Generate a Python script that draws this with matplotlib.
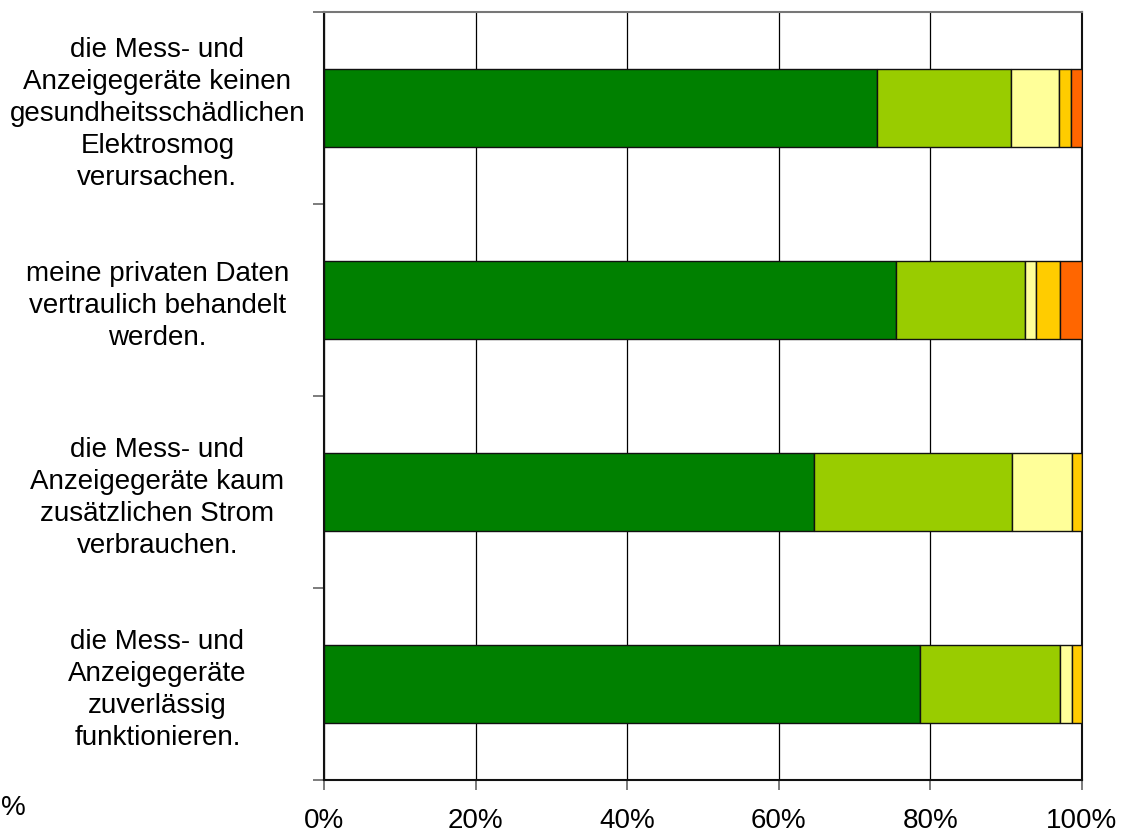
import matplotlib
matplotlib.use("Agg")
import matplotlib.pyplot as plt
import numpy as np

plt.rcParams['font.family'] = ['Liberation Sans', 'DejaVu Sans']

categories = [
    "die Mess- und\nAnzeigegeräte keinen\ngesundheitsschädlichen\nElektrosmog\nverursachen.",
    "meine privaten Daten\nvertraulich behandelt\nwerden.",
    "die Mess- und\nAnzeigegeräte kaum\nzusätzlichen Strom\nverbrauchen.",
    "die Mess- und\nAnzeigegeräte\nzuverlässig\nfunktionieren.",
]

# shares per answer level (percent), from strongest agreement to strongest disagreement
level1 = [73.0, 75.5, 64.7, 78.6]
level2 = [17.6, 17.0, 26.1, 18.5]
level3 = [6.4, 1.4, 7.9, 1.6]
level4 = [1.5, 3.2, 1.3, 1.3]
level5 = [1.5, 2.9, 0.0, 0.0]

series = [level1, level2, level3, level4, level5]
colors = ["#008000", "#99CC00", "#FFFF99", "#FFCC00", "#FF6600"]

xticks = [0, 20, 40, 60, 80, 100]
xticklabels = ["0%", "20%", "40%", "60%", "80%", "100%"]

fig = plt.figure(figsize=(11.21, 8.36), dpi=100)
ax = fig.add_axes([324 / 1121, 1 - 780 / 836, (1082 - 324) / 1121, (780 - 12) / 836])

y = np.arange(len(categories))
left = np.zeros(len(categories))
for vals, col in zip(series, colors):
    vals = np.array(vals)
    ax.barh(y, vals, left=left, height=0.406, color=col,
            edgecolor="#111111", linewidth=1.0, zorder=3)
    left += vals

ax.set_xlim(0, 100)
ax.set_ylim(len(categories) - 0.5, -0.5)

ax.set_xticks(xticks)
ax.set_xticklabels(xticklabels, fontsize=20)
ax.tick_params(axis="x", direction="out", length=7, color="#666666", width=1.2, pad=13)

ax.set_yticks(y)
ax.set_yticklabels(categories, fontsize=20, ha="center", linespacing=1.3)
ax.tick_params(axis="y", which="major", length=0, pad=120)
ax.set_yticks(np.arange(len(categories) + 1) - 0.5, minor=True)
ax.tick_params(axis="y", which="minor", direction="out", length=8, color="#666666", width=1.2)

ax.grid(axis="x", color="black", linewidth=0.9, zorder=0)
for name in ("left", "right", "bottom"):
    ax.spines[name].set_color("#111111")
    ax.spines[name].set_linewidth(1.5)
ax.spines["top"].set_color("#777777")
ax.spines["top"].set_linewidth(1.5)

fig.text(0.0005, 1 - 808 / 836, "%", fontsize=20, ha="left", va="center")

fig.savefig("out.png", dpi=100)
